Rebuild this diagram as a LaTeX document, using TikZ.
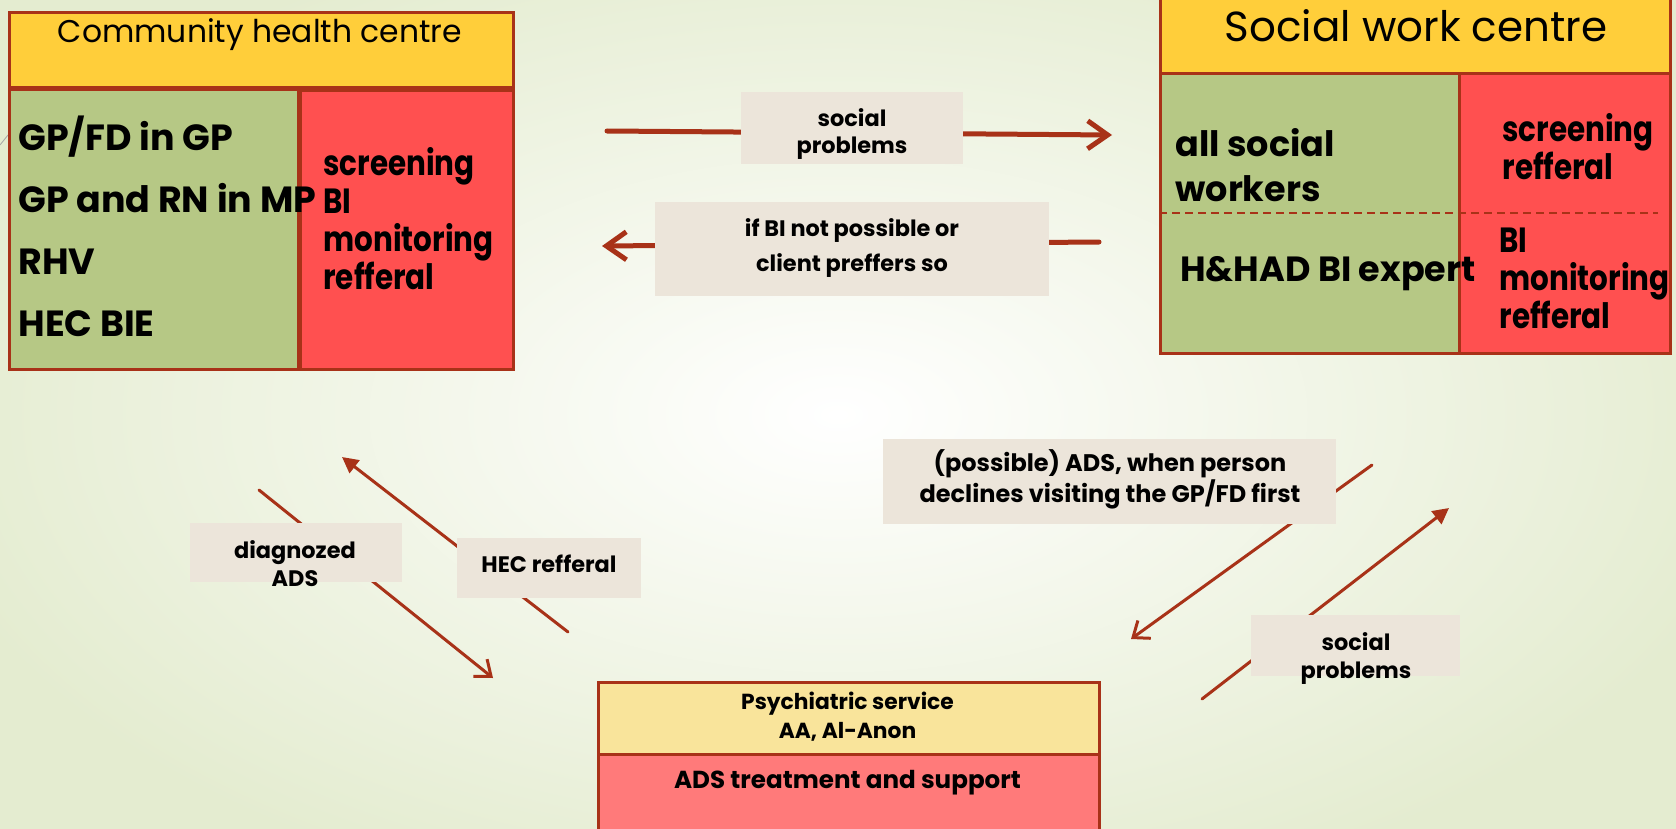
\documentclass[tikz,border=0pt]{standalone}
\usepackage{fontspec}
\setmainfont{Poppins}
\newfontfamily\narrowfont[FakeStretch=0.84]{Poppins}
\usepackage{xcolor}
\usepackage{tikz}
\usetikzlibrary{arrows.meta}
\definecolor{rust}{RGB}{168,50,24}
\definecolor{headyellow}{RGB}{255,206,58}
\definecolor{staffgreen}{RGB}{182,200,133}
\definecolor{taskred}{RGB}{255,80,80}
\definecolor{labelbg}{RGB}{236,229,218}
\definecolor{psyyellow}{RGB}{249,228,155}
\definecolor{adsred}{RGB}{255,122,122}
\definecolor{bgouter}{RGB}{228,236,208}
\tikzset{
	unit/.style={draw=rust,line width=1.5pt,inner sep=0pt,anchor=north west},
	tag/.style={fill=labelbg,inner sep=0pt},
	tagtext/.style={font=\bfseries\fontsize{11.2}{14}\selectfont,align=center,anchor=north,inner sep=0pt},
	bigtext/.style={font=\bfseries\fontsize{17.5}{19}\selectfont,align=left,anchor=north west,inner sep=0pt},
	tasktext/.style={bigtext,font=\narrowfont\bfseries\fontsize{17.5}{19}\selectfont},
	flow/.style={draw=rust,line cap=round,line width=1.5pt},
	thickflow/.style={draw=rust,line cap=round,line width=2.5pt,-{Straight Barb[length=10pt,width=14pt]}},
	openhead/.style={-{Straight Barb[length=7pt,width=11pt]}},
	fullhead/.style={-{Triangle[length=8pt,width=8pt]}}
}

\begin{document}
\begin{tikzpicture}[x=0.5pt,y=-0.5pt]
	\useasboundingbox (0,0) rectangle (1676,829);
	\shade[inner color=white,outer color=bgouter] (-100,-100) rectangle (1776,929);
	\draw[gray!70] (0,145)--(8,135);
	% community health centre
	\node[unit,fill=headyellow,minimum width=252pt,minimum height=37.5pt] (chc) at (8,11) {};
	\node[unit,fill=staffgreen,minimum width=144.5pt,minimum height=140pt] (chcstaff) at (8,88) {};
	\node[unit,fill=taskred,minimum width=106.5pt,minimum height=139.5pt] (chctask) at (299,89) {};
	\node[font=\fontsize{15.7}{18}\selectfont,anchor=base] (chctitle) at (260,43) {Community health centre};
	\node[bigtext,font=\bfseries\fontsize{18.2}{19.8}\selectfont] (chcstafftext) at (18,116) {GP/FD in GP\\[11.2pt]GP and RN in MP\\[11.2pt]RHV\\[11.2pt]HEC BIE};
	\node[tasktext] (chctasktext) at (323,147) {screening\\BI\\monitoring\\refferal};
	% social work centre
	\node[unit,fill=headyellow,minimum width=255pt,minimum height=37.5pt] (swc) at (1159,-3) {};
	\node[unit,fill=staffgreen,minimum width=149.5pt,minimum height=140pt] (swcstaff) at (1159,72) {};
	\node[unit,fill=taskred,minimum width=105.5pt,minimum height=140pt] (swctask) at (1458,72) {};
	\draw[rust,line width=0.6pt,dash pattern=on 4pt off 2.5pt] (1159,213)--(1658,213);
	\node[font=\fontsize{21}{24}\selectfont,anchor=base] (swctitle) at (1416,42) {Social work centre};
	\node[bigtext] (swcall) at (1175,128) {all social\\[3.5pt]workers};
	\node[bigtext] (swcexpert) at (1180,256) {H\&HAD BI expert};
	\node[tasktext] (swcscreen) at (1502,113) {screening\\refferal};
	\node[tasktext] (swcbi) at (1499,228) {BI\\monitoring\\refferal};
	% psychiatric service
	\node[unit,fill=psyyellow,minimum width=250.5pt,minimum height=36pt] (psy) at (597,681) {};
	\node[unit,fill=adsred,minimum width=250.5pt,minimum height=45pt] (ads) at (597,753) {};
	\node[font=\bfseries\fontsize{10.9}{14.5}\selectfont,align=center,anchor=north,inner sep=0pt] (psytext) at (847.5,692) {Psychiatric service\\AA, Al-Anon};
	\node[font=\bfseries\fontsize{12.3}{15}\selectfont,anchor=base] (adstext) at (847.5,788) {ADS treatment and support};
	% arrows
	\coordinate (toswcA) at (607,131);
	\coordinate (toswcB) at (1112,135);
	\coordinate (tochcA) at (1099,242);
	\coordinate (tochcB) at (602,246);
	\coordinate (diagA) at (259,490);
	\coordinate (diagB) at (493,678);
	\coordinate (hecA) at (568,632);
	\coordinate (hecB) at (342,457);
	\coordinate (possA) at (1372,465);
	\coordinate (possB) at (1131,639);
	\coordinate (socA) at (1202,699);
	\coordinate (socB) at (1449,508);
	\draw[thickflow] (toswcA)--(toswcB);
	\draw[thickflow] (tochcA)--(tochcB);
	\draw[flow,openhead] (diagA)--(diagB);
	\draw[flow,fullhead] (hecA)--(hecB);
	\draw[flow,openhead] (possA)--(possB);
	\draw[flow,fullhead] (socA)--(socB);
	% labels
	\node[tag,minimum width=111pt,minimum height=36pt] (toswcbox) at (852,128) {};
	\node[tagtext] (toswctext) at (852,108) {social\\[-0.5pt]problems};
	\node[tag,minimum width=197pt,minimum height=47pt] (tochcbox) at (852,249) {};
	\node[tagtext] (tochctext) at (852,218) {if BI not possible or\\[3.5pt]client preffers so};
	\node[tag,minimum width=106pt,minimum height=29.5pt] (diagbox) at (296,552.5) {};
	\node[tagtext] (diagtext) at (295,540) {diagnozed\\ADS};
	\node[tag,minimum width=92pt,minimum height=30pt] (hecbox) at (549,568) {};
	\node[tagtext,anchor=base] (hectext) at (549,572) {HEC refferal};
	\node[tag,minimum width=226.5pt,minimum height=42.5pt] (possbox) at (1109.5,481.5) {};
	\node[tagtext,font=\bfseries\fontsize{12}{15.5}\selectfont] (posstext) at (1110,449) {(possible) ADS, when person\\declines visiting the GP/FD first};
	\node[tag,minimum width=104.5pt,minimum height=30.5pt] (socbox) at (1355.5,645.5) {};
	\node[tagtext] (soctext) at (1356,632) {social\\problems};
\end{tikzpicture}
\end{document}
